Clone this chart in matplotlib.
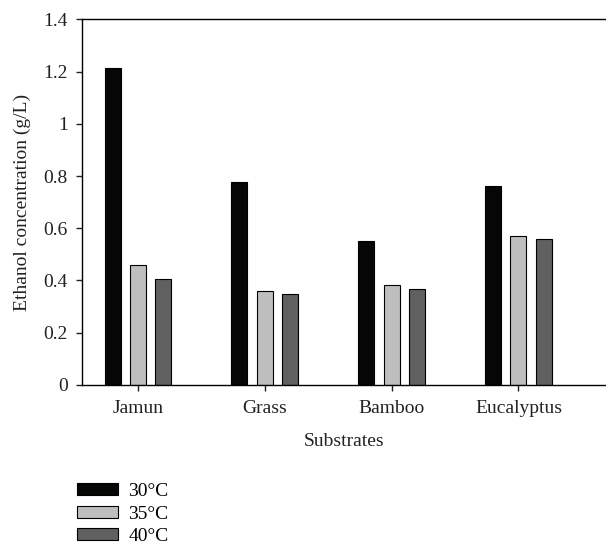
import numpy as np
import matplotlib.pyplot as plt
from matplotlib.patches import Patch

plt.rcParams['font.family'] = ['Liberation Serif', 'DejaVu Serif']

substrates = ["Jamun", "Grass", "Bamboo", "Eucalyptus"]
temps = ["30°C", "35°C", "40°C"]
t30 = [1.214, 0.778, 0.551, 0.763]
t35 = [0.459, 0.361, 0.384, 0.570]
t40 = [0.405, 0.347, 0.366, 0.558]
colors = ["#050705", "#bebebe", "#5f605f"]

fig = plt.figure(figsize=(6.06, 5.46), dpi=100)
ax = fig.add_axes([0.1348, 0.2949, 0.8652, 0.6698])

x = np.arange(len(substrates))
w = 0.126
off = 0.2
for i, (vals, c) in enumerate(zip([t30, t35, t40], colors)):
    ax.bar(x + (i - 1) * off, vals, w, color=c, edgecolor="black", linewidth=0.8)

fs = 14
ax.set_xlim(-0.443, 3.69)
ax.set_ylim(0, 1.4)
ax.set_yticks(np.arange(0, 1.41, 0.2))
ax.set_yticklabels(["0", "0.2", "0.4", "0.6", "0.8", "1", "1.2", "1.4"])
ax.set_xticks(x)
ax.set_xticklabels(substrates)
ax.spines["right"].set_visible(False)
for s in ["left", "top", "bottom"]:
    ax.spines[s].set_linewidth(1.0)
ax.tick_params(labelsize=fs, colors="#222222", length=4, width=1)
ax.tick_params(axis="x", pad=7)
ax.tick_params(axis="y", pad=6)
ax.set_xlabel("Substrates", fontsize=fs, color="#222222", labelpad=11)
ax.set_ylabel("Ethanol concentration (g/L)", fontsize=fs, color="#222222", labelpad=9)

handles = [Patch(facecolor=c, edgecolor="black", linewidth=0.8) for c in colors]
fig.legend(handles, temps, loc="upper left", bbox_to_anchor=(0.127, 0.115),
           frameon=False, fontsize=fs, handlelength=2.1, handleheight=0.57,
           labelspacing=0.28, handletextpad=0.55, borderaxespad=0, borderpad=0)

fig.savefig("out.png", dpi=100)
